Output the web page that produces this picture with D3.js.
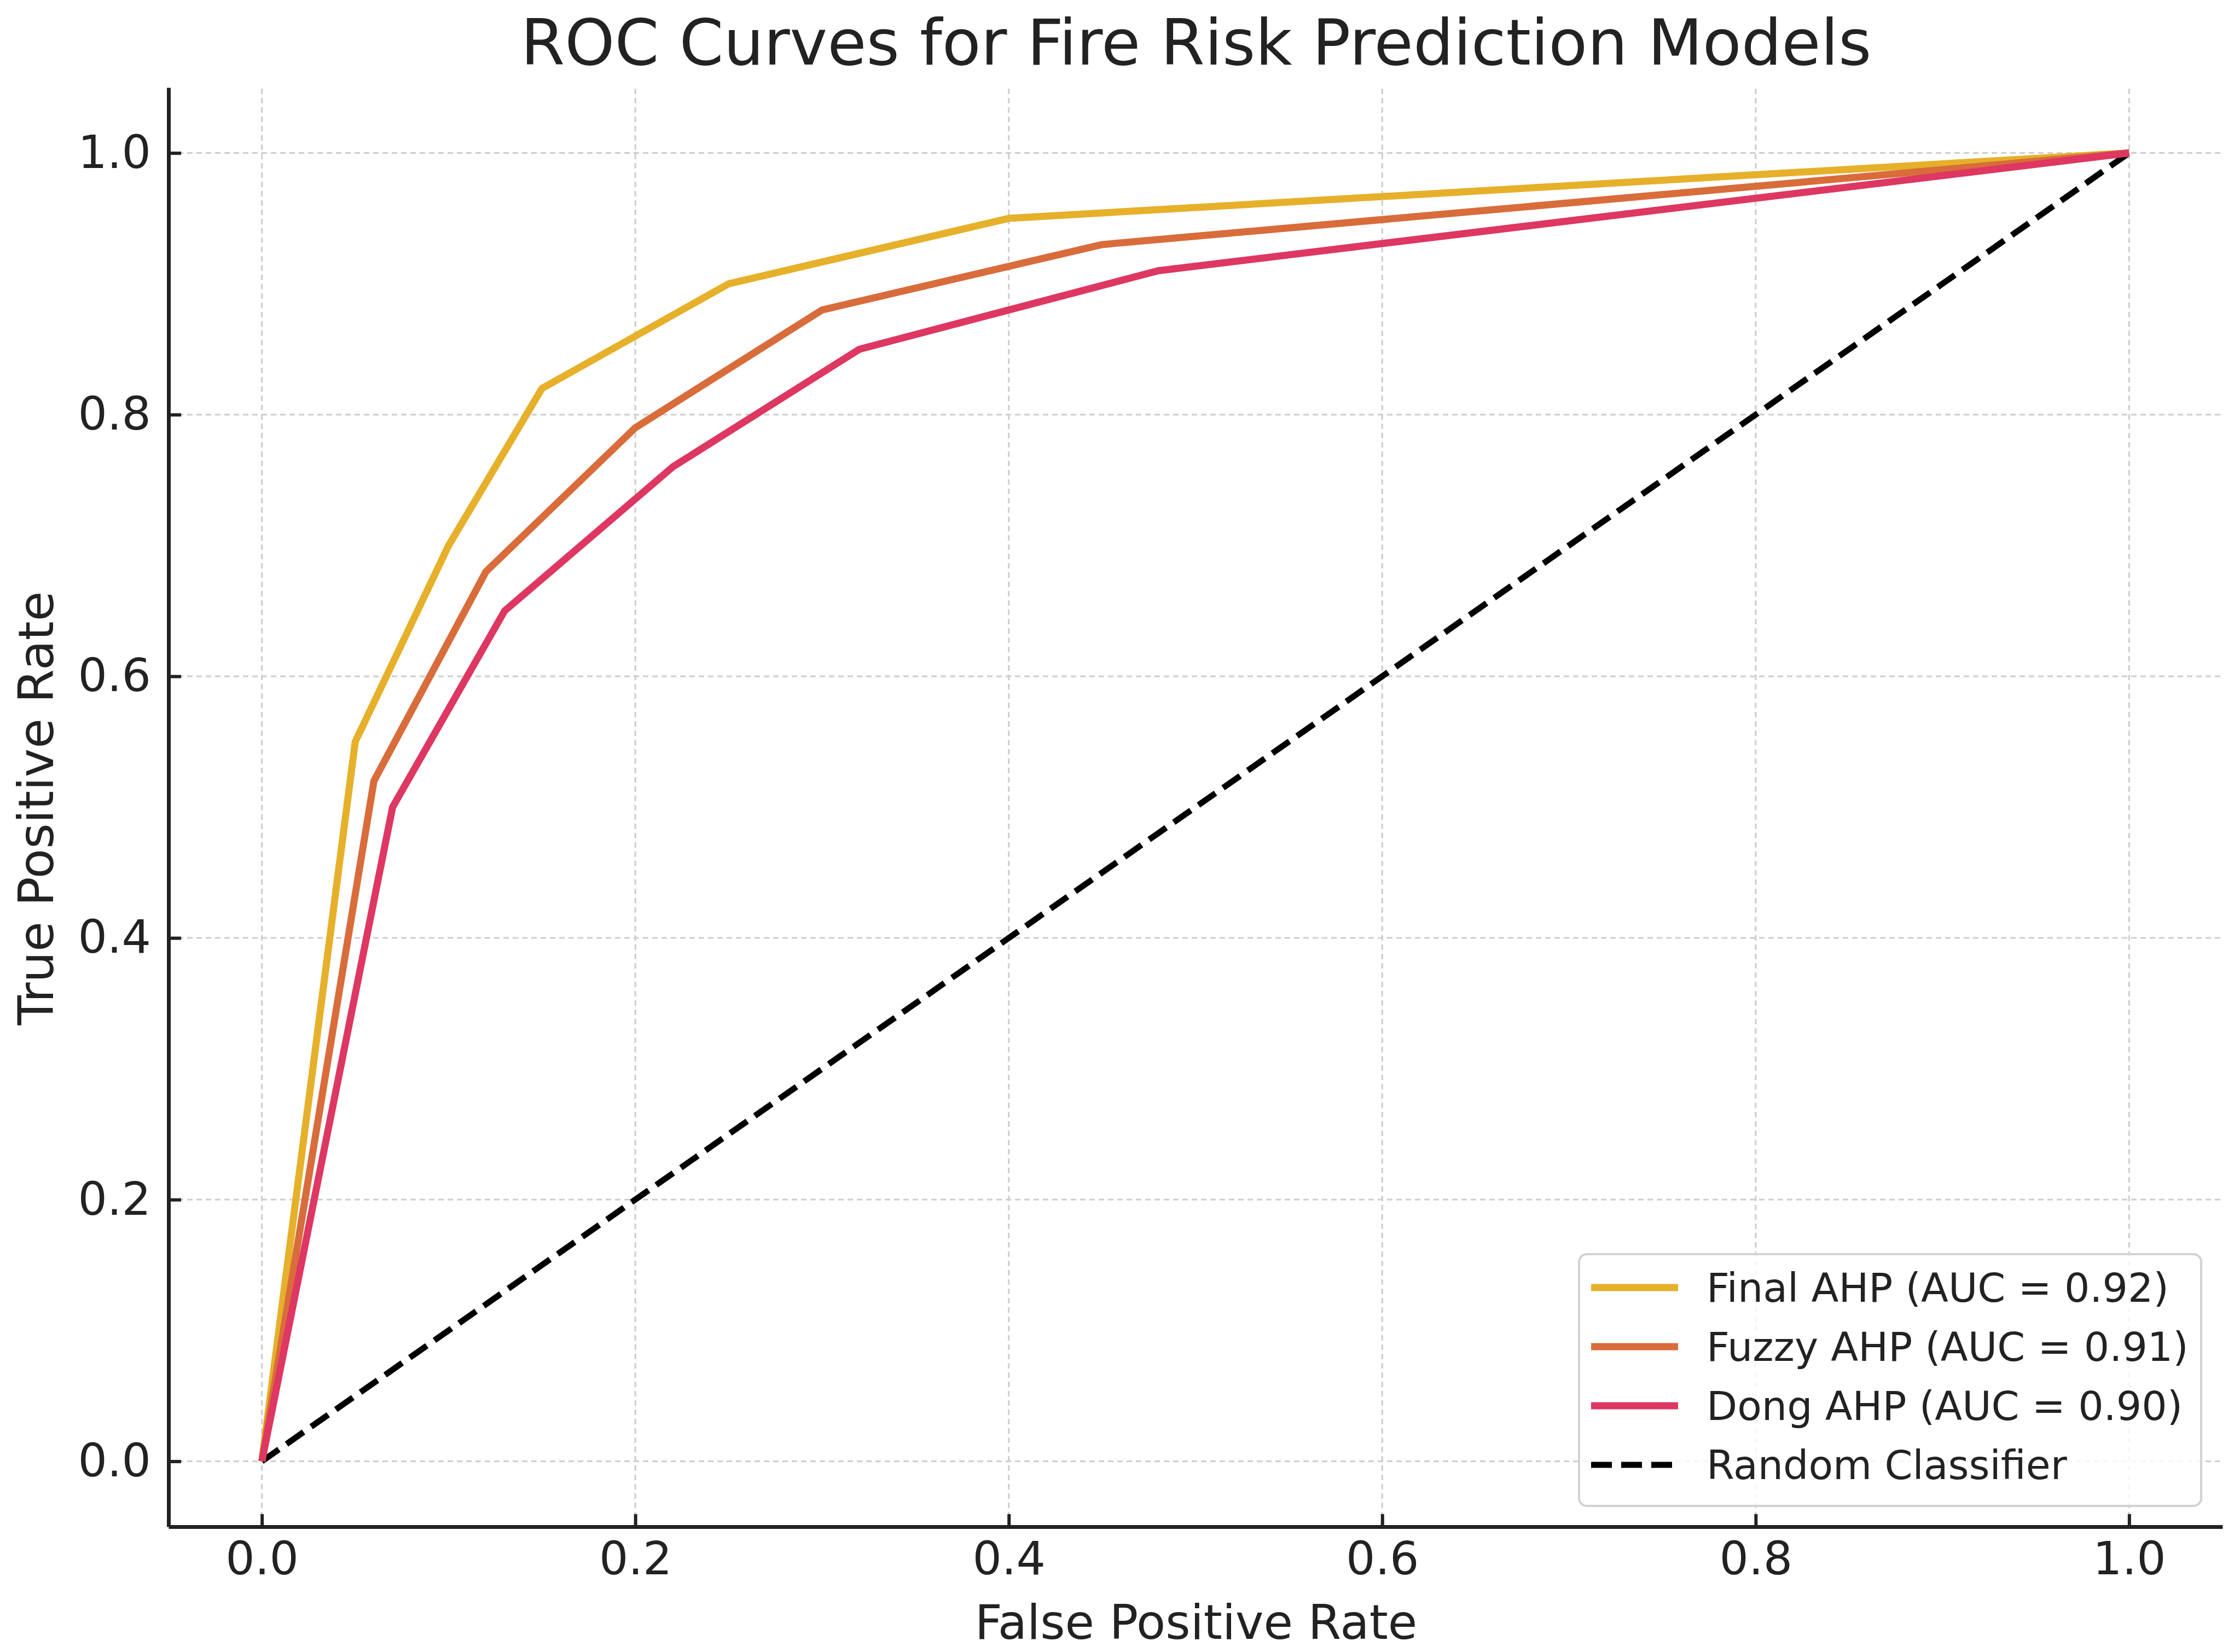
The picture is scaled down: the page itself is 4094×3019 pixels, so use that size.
<!doctype html>
<html lang="en">
<head>
  <meta charset="utf-8">
  <script src="https://cdn.jsdelivr.net/npm/d3@7"></script>
  <title>ROC Curves for Fire Risk Prediction Models</title>
  <style>
    html, body { margin: 0; padding: 0; background: #fff; }
    text { font-family: "DejaVu Sans", sans-serif; fill: #222; }
  </style>
</head>
<body>
  <svg id="roc" width="4094" height="3019"></svg>
  <script>
    // ROC points
    const models = ["Final AHP", "Fuzzy AHP", "Dong AHP"];
    const aucs = [0.92, 0.91, 0.90];
    const colors = ["#e6b02a", "#d96c3b", "#dd3762"];
    const finalFpr = [0, 0.05, 0.10, 0.15, 0.25, 0.40, 1.0];
    const finalTpr = [0, 0.55, 0.70, 0.82, 0.90, 0.95, 1.0];
    const fuzzyFpr = [0, 0.06, 0.12, 0.20, 0.30, 0.45, 1.0];
    const fuzzyTpr = [0, 0.52, 0.68, 0.79, 0.88, 0.93, 1.0];
    const dongFpr = [0, 0.07, 0.13, 0.22, 0.32, 0.48, 1.0];
    const dongTpr = [0, 0.50, 0.65, 0.76, 0.85, 0.91, 1.0];
    const randomFpr = [0, 1];
    const randomTpr = [0, 1];
    const ticks = [0, 0.2, 0.4, 0.6, 0.8, 1.0];

    const curves = [
      d3.zip(finalFpr, finalTpr),
      d3.zip(fuzzyFpr, fuzzyTpr),
      d3.zip(dongFpr, dongTpr)
    ];

    const svg = d3.select("#roc");
    const x = d3.scaleLinear().domain([-0.05, 1.05]).range([308, 4062]);
    const y = d3.scaleLinear().domain([-0.05, 1.05]).range([2790, 160]);
    const fmt = d3.format(".1f");

    // grid
    const grid = svg.append("g")
        .attr("stroke", "#cdcdcd")
        .attr("stroke-width", 3)
        .attr("stroke-dasharray", "10,7");
    grid.selectAll(".gx").data(ticks).enter().append("line")
        .attr("x1", d => x(d)).attr("x2", d => x(d))
        .attr("y1", y.range()[0]).attr("y2", y.range()[1]);
    grid.selectAll(".gy").data(ticks).enter().append("line")
        .attr("y1", d => y(d)).attr("y2", d => y(d))
        .attr("x1", x.range()[0]).attr("x2", x.range()[1]);

    // random classifier
    const line = d3.line().x(d => x(d[0])).y(d => y(d[1]));
    svg.append("path")
        .datum(d3.zip(randomFpr, randomTpr))
        .attr("d", line)
        .attr("fill", "none")
        .attr("stroke", "#000")
        .attr("stroke-width", 11)
        .attr("stroke-dasharray", "38,17");

    // model curves
    svg.selectAll(".curve")
        .data(curves)
        .enter()
        .append("path")
            .attr("d", line)
            .attr("fill", "none")
            .attr("stroke", (d, i) => colors[i])
            .attr("stroke-width", 13)
            .attr("stroke-linejoin", "round");

    // axes (ticks point inward, like the original)
    const xAxis = svg.append("g")
        .attr("transform", "translate(0," + y.range()[0] + ")")
        .call(d3.axisBottom(x).tickValues(ticks).tickFormat(fmt)
          .tickSizeInner(-23).tickSizeOuter(0).tickPadding(27));
    const yAxis = svg.append("g")
        .attr("transform", "translate(" + x.range()[0] + ",0)")
        .call(d3.axisLeft(y).tickValues(ticks).tickFormat(fmt)
          .tickSizeInner(-23).tickSizeOuter(0).tickPadding(32));
    [xAxis, yAxis].forEach(a => {
      a.select(".domain").attr("stroke", "#222").attr("stroke-width", 7);
      a.selectAll(".tick line").attr("stroke", "#222").attr("stroke-width", 6);
      a.selectAll(".tick text")
          .style("font-family", "DejaVu Sans, sans-serif")
          .style("font-size", "84px")
          .attr("fill", "#222");
    });

    // titles
    svg.append("text")
        .attr("x", 2186).attr("y", 118)
        .attr("text-anchor", "middle")
        .style("font-size", "116px")
        .attr("fill", "#333")
        .text("ROC Curves for Fire Risk Prediction Models");
    svg.append("text")
        .attr("x", 2186).attr("y", 2995)
        .attr("text-anchor", "middle")
        .style("font-size", "87px")
        .text("False Positive Rate");
    svg.append("text")
        .attr("transform", "translate(97,1477) rotate(-90)")
        .attr("text-anchor", "middle")
        .style("font-size", "89px")
        .text("True Positive Rate");

    // legend
    const legendItems = models.map((m, i) => ({
      label: m + " (AUC = " + d3.format(".2f")(aucs[i]) + ")",
      color: colors[i], dash: null
    }));
    legendItems.push({ label: "Random Classifier", color: "#000", dash: "38,17" });

    const legend = svg.append("g").attr("transform", "translate(2886,2292)");
    legend.append("rect")
        .attr("width", 1137).attr("height", 460)
        .attr("rx", 14).attr("ry", 14)
        .attr("fill", "#fff").attr("fill-opacity", 0.8)
        .attr("stroke", "#d2d2d2").attr("stroke-width", 4);
    const rows = legend.selectAll(".row")
        .data(legendItems)
        .enter()
        .append("g")
            .attr("transform", (d, i) => "translate(0," + (61 + i * 108) + ")");
    rows.append("line")
        .attr("x1", 22).attr("x2", 181)
        .attr("stroke", d => d.color)
        .attr("stroke-width", d => d.dash ? 11 : 13)
        .attr("stroke-dasharray", d => d.dash);
    rows.append("text")
        .attr("x", 233).attr("dy", "0.36em")
        .style("font-size", "73px")
        .attr("fill", "#333")
        .text(d => d.label);
  </script>
</body>
</html>
